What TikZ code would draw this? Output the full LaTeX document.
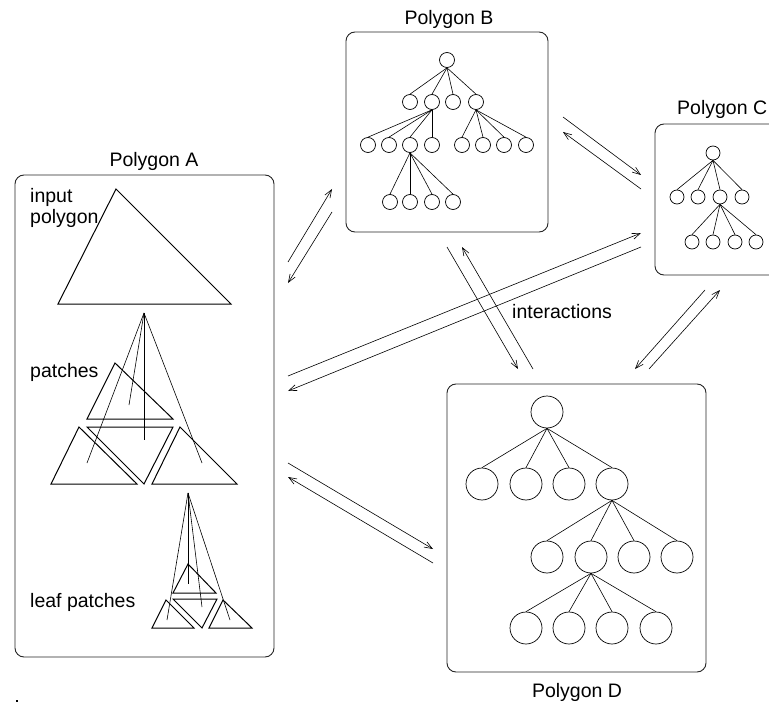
\documentclass[tikz,border=0pt]{standalone}
\usepackage{fontspec}
\setmainfont{Liberation Sans}
\usetikzlibrary{arrows.meta}
\begin{document}
\begin{tikzpicture}[x=1pt,y=-1pt,
  polybox/.style={draw=black!85,line width=0.9pt,rounded corners=9pt},
  tri/.style={draw,line width=1pt,line join=miter},
  tline/.style={draw,line width=0.6pt},
  sn/.style={circle,draw,line width=0.7pt,minimum size=15pt,inner sep=0pt},
  cn/.style={circle,draw,line width=0.7pt,minimum size=14pt,inner sep=0pt},
  dn/.style={circle,draw,line width=0.7pt,minimum size=32pt,inner sep=0pt},
  edge/.style={draw,line width=0.6pt},
  inter/.style={draw,line width=0.6pt,-{Straight Barb[length=8pt,width=6pt,line width=0.6pt]}},
  lbl/.style={font=\fontsize{19.5}{21}\selectfont,inner sep=0pt}
]
\useasboundingbox (0,0) rectangle (769,706);
\begin{scope}
\clip (0,0) rectangle (769,706);
% boxes
\draw[polybox] (15,175) rectangle (274,657);
\draw[polybox] (346,32) rectangle (548,232);
\draw[polybox] (655,124) rectangle (790,275);
\draw[polybox] (447,384) rectangle (706,672);
% titles
\node[lbl,anchor=base] (tA) at (154,167) {Polygon A};
\node[lbl,anchor=base] (tB) at (449,25) {Polygon B};
\node[lbl,anchor=base west] (tC) at (677,115) {Polygon C};
\node[lbl,anchor=base] (tD) at (577,697) {Polygon D};
\end{scope}
% labels in A
\node[lbl,anchor=base west] (lin) at (30,203) {input};
\node[lbl,anchor=base west] (lpoly) at (30,224) {polygon};
\node[lbl,anchor=base west] (lpat) at (30,377) {patches};
\node[lbl,anchor=base west] (lleaf) at (30,607) {leaf patches};
\node[lbl,anchor=base west] (lint) at (512,318) {interactions};
% input polygon
\draw[tri] (116,189) -- (58,304) -- (231,304) -- cycle;
% patches
\draw[tri] (115,363) -- (87,419) -- (173,419) -- cycle;
\draw[tri] (79,427) -- (51,484) -- (137,484) -- cycle;
\draw[tri] (87,427) -- (173,427) -- (144,484) -- cycle;
\draw[tri] (180,427) -- (152,484) -- (237,484) -- cycle;
\coordinate (pa) at (144,313);
\foreach \p in {(129,405),(87,463),(144,440),(202,463)} \draw[tline] (pa) -- \p;
% leaf patches
\draw[tri] (188,564) -- (173,593) -- (216,593) -- cycle;
\draw[tri] (166,600) -- (152,628) -- (194,628) -- cycle;
\draw[tri] (173,599) -- (217,599) -- (202,628) -- cycle;
\draw[tri] (223,600) -- (209,628) -- (252,628) -- cycle;
\coordinate (la) at (188,493);
\foreach \p in {(167,620),(188,584),(202,607),(230,620)} \draw[tline] (la) -- \p;
% tree B
\node[sn] (b0) at (447,60) {};
\foreach \x [count=\i] in {410,432,453,476} \node[sn] (b1\i) at (\x,102) {};
\foreach \x [count=\i] in {368,389,410,432,462,483,504,526} \node[sn] (b2\i) at (\x,145) {};
\foreach \x [count=\i] in {390,410,432,453} \node[sn] (b3\i) at (\x,202) {};
\foreach \i in {1,...,4} \draw[edge] (b0.south) -- (b1\i.north);
\foreach \i in {1,...,4} \draw[edge] (b12.south) -- (b2\i.north);
\foreach \i in {5,...,8} \draw[edge] (b14.south) -- (b2\i.north);
\foreach \i in {1,...,4} \draw[edge] (b23.south) -- (b3\i.north);
% tree C
\node[cn] (c0) at (713,153) {};
\foreach \x [count=\i] in {677,698,720,742} \node[cn] (c1\i) at (\x,197) {};
\foreach \x [count=\i] in {692,713,735,756} \node[cn] (c2\i) at (\x,242) {};
\foreach \i in {1,...,4} \draw[edge] (c0.south) -- (c1\i.north);
\foreach \i in {1,...,4} \draw[edge] (c13.south) -- (c2\i.north);
% tree D
\node[dn] (d0) at (547,412) {};
\foreach \x [count=\i] in {482,526,569,612} \node[dn] (d1\i) at (\x,484) {};
\foreach \x [count=\i] in {547,591,634,677} \node[dn] (d2\i) at (\x,557) {};
\foreach \x [count=\i] in {526,569,612,656} \node[dn] (d3\i) at (\x,628) {};
\foreach \i in {1,...,4} \draw[edge] (d0.south) -- (d1\i.north);
\foreach \i in {1,...,4} \draw[edge] (d14.south) -- (d2\i.north);
\foreach \i in {1,...,4} \draw[edge] (d22.south) -- (d3\i.north);
% interaction arrows
\coordinate (ab1) at (288,262); \coordinate (ab2) at (332,189);
\coordinate (ab3) at (332,212); \coordinate (ab4) at (288,283);
\coordinate (bc1) at (563,117); \coordinate (bc2) at (641,175);
\coordinate (bc3) at (641,189); \coordinate (bc4) at (563,132);
\coordinate (bd1) at (447,247); \coordinate (bd2) at (518,369);
\coordinate (bd3) at (533,369); \coordinate (bd4) at (462,247);
\coordinate (ac1) at (288,376); \coordinate (ac2) at (641,233);
\coordinate (ac3) at (641,247); \coordinate (ac4) at (288,391);
\coordinate (cd1) at (705,290); \coordinate (cd2) at (635,369);
\coordinate (cd3) at (649,369); \coordinate (cd4) at (720,290);
\coordinate (ad1) at (288,463); \coordinate (ad2) at (433,549);
\coordinate (ad3) at (433,563); \coordinate (ad4) at (288,477);
\foreach \p in {ab,bc,bd,ac,cd,ad} {
  \draw[inter] (\p1) -- (\p2);
  \draw[inter] (\p3) -- (\p4);
}
% stray dot
\fill (16,700) rectangle (17.5,701.5);
\end{tikzpicture}
\end{document}
